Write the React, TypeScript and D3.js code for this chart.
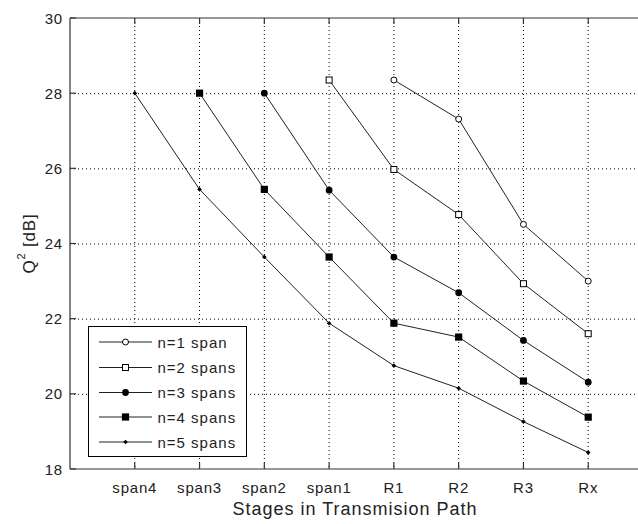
import React from "react";
import * as d3 from "d3";

const categories = ["span4", "span3", "span2", "span1", "R1", "R2", "R3", "Rx"];
const n1 = [null, null, null, null, 28.35, 27.31, 24.51, 23.0];
const n2 = [null, null, null, 28.35, 25.97, 24.77, 22.93, 21.6];
const n3 = [null, null, 28.0, 25.42, 23.64, 22.69, 21.42, 20.31];
const n4 = [null, 28.0, 25.44, 23.64, 21.88, 21.51, 20.34, 19.38];
const n5 = [28.0, 25.44, 23.64, 21.88, 20.75, 20.15, 19.26, 18.44];
const seriesNames = ["n=1 span", "n=2 spans", "n=3 spans", "n=4 spans", "n=5 spans"];
const seriesMarkers = ["openCircle", "openSquare", "circle", "square", "dot"];
const yTicks = [18, 20, 22, 24, 26, 28, 30];

const W = 638, H = 524;
const L = 70, R = 653, T = 18, B = 469;

function Marker({ type, x, y }: { type: string; x: number; y: number }) {
  switch (type) {
    case "openCircle":
      return <circle cx={x} cy={y} r={3} fill="#fff" stroke="#000" strokeWidth={1} />;
    case "openSquare":
      return <rect x={x - 3} y={y - 3} width={6} height={6} fill="#fff" stroke="#000" strokeWidth={1} />;
    case "circle":
      return <circle cx={x} cy={y} r={3.4} fill="#000" />;
    case "square":
      return <rect x={x - 3.6} y={y - 3.6} width={7.2} height={7.2} fill="#000" />;
    default:
      return <path d={`M${x},${y - 2.3}L${x + 2.3},${y}L${x},${y + 2.3}L${x - 2.3},${y}Z`} fill="#000" />;
  }
}

export default function App() {
  const x = d3.scalePoint<string>().domain(categories).range([L, R]).padding(1);
  const y = d3.scaleLinear().domain([18, 30]).range([B, T]);
  const all = [n1, n2, n3, n4, n5];
  const line = d3
    .line<[string, number | null]>()
    .defined((d) => d[1] != null)
    .x((d) => x(d[0]) as number)
    .y((d) => y(d[1] as number));
  const font = "'Liberation Sans', Arial, sans-serif";
  const legendY = [342, 367.5, 392.5, 417, 442];
  return (
    <svg width={W} height={H} style={{ position: "absolute", left: 0, top: 0, background: "#fff" }} fontFamily={font}>
      <defs>
        <clipPath id="clip">
          <rect x={L} y={T - 5} width={R - L} height={B - T + 10} />
        </clipPath>
      </defs>
      {/* grid */}
      <g stroke="#000" strokeWidth={1} strokeDasharray="1,3">
        {categories.map((c) => (
          <line key={c} x1={x(c)} x2={x(c)} y1={T} y2={B} />
        ))}
        {yTicks.slice(1, -1).map((t) => (
          <line key={t} x1={L} x2={R} y1={y(t) + 0.5} y2={y(t) + 0.5} />
        ))}
      </g>
      {/* axes box */}
      <g stroke="#333" strokeWidth={1.2} fill="none">
        <line x1={L} x2={R} y1={T} y2={T} />
        <line x1={L} x2={R} y1={B} y2={B} />
        <line x1={L} x2={L} y1={T} y2={B} />
        {categories.map((c) => (
          <g key={c}>
            <line x1={x(c)} x2={x(c)} y1={B} y2={B - 6} />
            <line x1={x(c)} x2={x(c)} y1={T} y2={T + 6} />
          </g>
        ))}
        {yTicks.map((t) => (
          <line key={t} x1={L} x2={L + 6} y1={y(t)} y2={y(t)} />
        ))}
      </g>
      {/* tick labels */}
      <g fontSize={15} fill="#222" letterSpacing={0.8}>
        {yTicks.map((t) => (
          <text key={t} x={63} y={y(t)} textAnchor="end" dominantBaseline="central">
            {t}
          </text>
        ))}
        {categories.map((c) => (
          <text key={c} x={x(c)} y={487} textAnchor="middle" dominantBaseline="central">
            {c}
          </text>
        ))}
      </g>
      <text x={355} y={509} textAnchor="middle" dominantBaseline="central" fontSize={18} letterSpacing={1} fill="#222">
        Stages in Transmision Path
      </text>
      <text
        transform={`translate(29,${(T + B) / 2}) rotate(-90)`}
        textAnchor="middle"
        dominantBaseline="central"
        fontSize={17}
        letterSpacing={0.8}
        fill="#222"
      >
        Q<tspan dy={-8} fontSize={11}>2</tspan>
        <tspan dy={8}> [dB]</tspan>
      </text>
      {/* series */}
      <g clipPath="url(#clip)">
        {all.map((s, i) => {
          const pts = categories.map((c, j) => [c, s[j]] as [string, number | null]);
          return (
            <g key={i}>
              <path d={line(pts) || ""} fill="none" stroke="#222" strokeWidth={1} />
              {pts
                .filter((p) => p[1] != null)
                .map((p) => (
                  <Marker key={p[0]} type={seriesMarkers[i]} x={x(p[0]) as number} y={y(p[1] as number)} />
                ))}
            </g>
          );
        })}
      </g>
      {/* legend */}
      <g>
        <rect x={88.5} y={326.5} width={158} height={130} fill="#fff" stroke="#000" strokeWidth={1} />
        {seriesNames.map((n, i) => (
          <g key={n}>
            <line x1={99} x2={152} y1={legendY[i]} y2={legendY[i]} stroke="#222" strokeWidth={1} />
            <Marker type={seriesMarkers[i]} x={125.5} y={legendY[i]} />
            <text x={157.5} y={legendY[i]} dominantBaseline="central" fontSize={15} letterSpacing={1} fill="#222">
              {n}
            </text>
          </g>
        ))}
      </g>
    </svg>
  );
}
